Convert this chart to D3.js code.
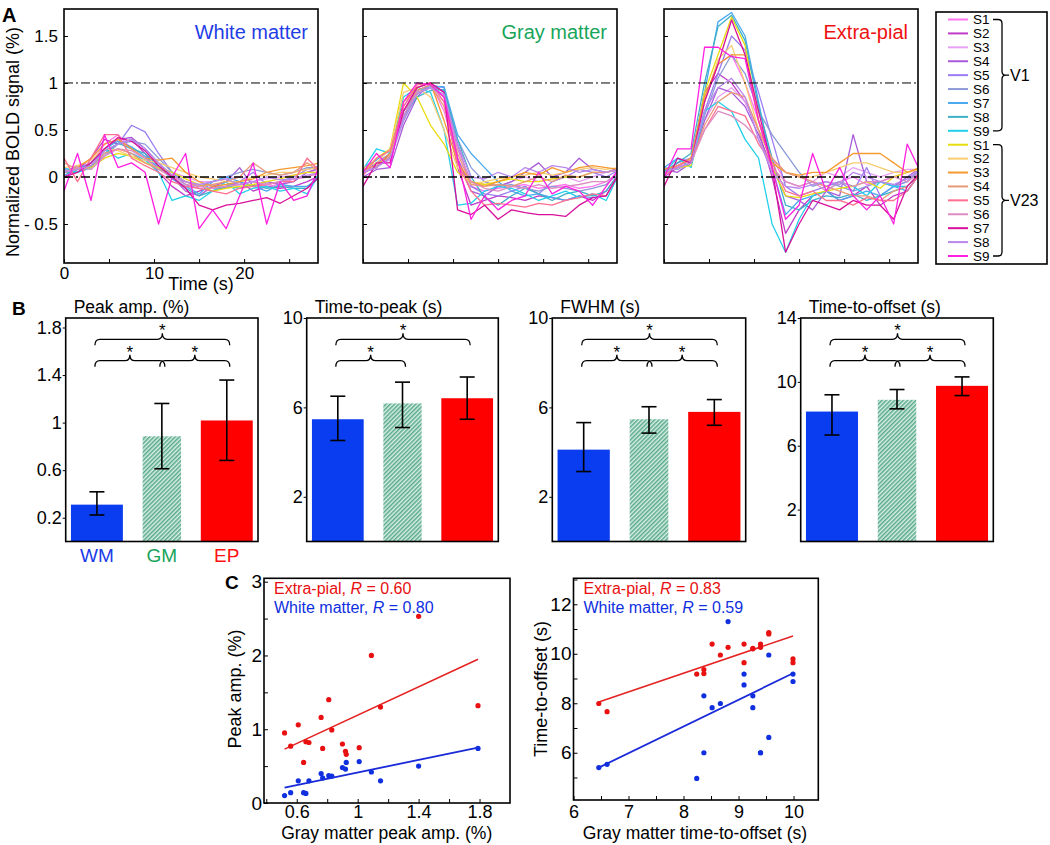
<!DOCTYPE html>
<html><head><meta charset="utf-8">
<script src="https://cdn.jsdelivr.net/npm/d3@7"></script>
<style>body{margin:0;background:#fff}</style>
</head><body>
<svg id="chart" width="1050" height="845"></svg>
<script>
// ================= DATA =================
const timeS = [0,1.5,3,4.5,6,7.5,9,10.5,12,13.5,15,16.5,18,19.5,21,22.5,24,25.5,27,28.5];
const subjectLabels = ["S1","S2","S3","S4","S5","S6","S7","S8","S9","S1","S2","S3","S4","S5","S6","S7","S8","S9"];
const groupNames = ["V1","V23"];
const seriesColors = ["#ff77ee","#c03cc8","#e8a0f4","#a85ad8","#9b7cf2","#8c9ad8","#4aa8f0","#3fb0c8","#22d0ea",
                      "#e8dc10","#f8cc70","#f59a30","#e89a78","#ff6f8f","#dc8cc0","#d8109a","#b888ec","#ff20e0"];
const aTimeTicks = [0,5,10,15,20,25];
const aTimeLabels = ["0","","10","","20",""];
const aSignalTicks = [1.5,1,0.5,0,-0.5];
const aSignalLabels = ["1.5","1","0.5","0","- 0.5"];
const refLevels = [1,0];

const wmCourses = [
 [0.05,0.10,0.15,0.35,0.45,0.30,0.20,0.10,0.00,-0.05,-0.10,-0.12,-0.10,-0.08,-0.05,-0.10,-0.08,-0.02,0.00,0.05],
 [0.00,0.08,0.20,0.40,0.35,0.40,0.25,0.05,-0.10,-0.20,-0.15,-0.10,-0.12,-0.05,-0.15,-0.10,-0.12,-0.10,-0.05,0.02],
 [0.10,0.05,0.10,0.25,0.30,0.25,0.20,0.10,0.05,0.00,-0.05,-0.05,-0.02,0.00,-0.05,-0.02,0.00,0.02,0.05,0.08],
 [0.05,0.12,0.10,0.30,0.40,0.42,0.30,0.15,0.00,-0.15,-0.20,-0.10,-0.05,0.10,-0.10,-0.05,-0.08,-0.05,0.05,0.10],
 [0.08,0.05,0.15,0.28,0.35,0.55,0.48,0.25,0.05,-0.08,-0.12,-0.15,-0.10,-0.05,0.05,-0.08,-0.05,0.00,0.08,0.12],
 [0.05,0.10,0.12,0.22,0.35,0.38,0.35,0.20,0.05,-0.05,-0.10,-0.05,0.00,0.05,0.08,0.05,0.02,0.05,0.10,0.10],
 [0.02,0.08,0.15,0.30,0.38,0.32,0.22,0.10,-0.02,-0.10,-0.18,-0.05,0.00,-0.05,-0.10,-0.15,-0.08,-0.10,-0.10,0.00],
 [0.05,0.05,0.12,0.25,0.36,0.30,0.25,0.12,0.00,-0.12,-0.20,-0.15,-0.10,-0.12,-0.08,-0.12,-0.10,-0.12,-0.12,0.05],
 [0.10,0.05,0.10,0.30,0.20,0.25,0.18,0.05,-0.25,-0.20,-0.25,-0.15,-0.05,-0.18,-0.12,-0.10,-0.15,-0.12,-0.18,0.05],
 [0.05,0.08,0.10,0.20,0.25,0.22,0.15,0.10,0.05,-0.02,-0.08,-0.15,-0.12,-0.10,-0.08,-0.05,-0.02,0.02,0.05,0.05],
 [0.10,0.12,0.18,0.30,0.28,0.22,0.18,0.15,0.10,0.05,0.00,-0.02,-0.05,-0.05,0.00,0.02,0.05,0.05,0.08,0.10],
 [0.05,0.10,0.20,0.35,0.40,0.30,0.20,0.18,0.20,0.05,-0.05,-0.10,-0.08,-0.05,-0.02,0.05,0.08,0.10,0.12,0.15],
 [0.15,0.08,0.12,0.25,0.30,0.25,0.15,0.08,0.02,-0.05,-0.10,-0.08,-0.05,0.00,0.15,0.05,0.02,0.05,0.15,0.05],
 [0.20,-0.05,0.20,0.45,0.45,0.20,0.12,0.05,-0.05,-0.10,-0.12,-0.15,-0.18,-0.12,-0.10,-0.08,-0.05,-0.05,0.20,0.05],
 [0.05,0.10,0.08,0.22,0.30,0.28,0.20,0.08,0.00,-0.08,-0.10,-0.12,-0.10,-0.08,-0.05,-0.08,-0.05,-0.02,0.00,0.05],
 [0.00,0.05,0.15,0.30,0.42,0.38,0.28,0.12,0.00,-0.12,-0.30,-0.35,-0.30,-0.28,-0.25,-0.22,-0.28,-0.20,-0.12,0.02],
 [0.05,0.08,0.12,0.28,0.35,0.40,0.30,0.15,0.02,-0.05,-0.08,-0.05,-0.02,-0.08,-0.05,0.00,-0.03,-0.02,0.02,0.05],
 [-0.15,0.25,-0.25,0.45,0.10,0.15,0.05,-0.50,0.00,0.25,-0.55,-0.35,-0.55,-0.20,0.15,-0.50,-0.05,-0.25,-0.20,0.15]
];
const gmCourses = [
 [0.02,0.15,0.20,0.75,0.95,1.00,0.70,0.20,-0.10,-0.15,-0.12,-0.10,-0.08,-0.12,-0.10,-0.08,-0.12,-0.10,-0.05,0.05],
 [0.05,0.10,0.25,0.70,0.92,0.98,0.85,0.10,-0.30,-0.25,-0.20,-0.22,-0.25,-0.20,-0.22,-0.25,-0.20,-0.25,-0.15,0.05],
 [0.05,0.12,0.18,0.60,0.90,0.95,0.80,0.30,-0.05,-0.08,-0.10,-0.05,0.00,-0.05,-0.02,0.00,-0.05,0.00,0.05,0.08],
 [0.00,0.08,0.10,0.55,0.85,1.00,0.90,0.20,-0.15,-0.20,-0.10,-0.05,0.05,0.15,0.00,0.05,0.20,0.08,0.05,0.10],
 [0.05,0.15,0.25,0.65,0.92,0.98,0.95,0.35,-0.10,-0.18,-0.20,-0.15,-0.10,-0.18,-0.05,0.00,0.08,0.05,0.00,0.08],
 [0.05,0.10,0.22,0.60,0.88,0.96,0.92,0.40,0.10,-0.05,-0.10,-0.08,-0.12,-0.15,-0.10,-0.12,-0.15,-0.12,-0.08,0.05],
 [0.10,0.18,0.30,0.70,0.90,0.96,0.96,0.45,0.25,0.10,-0.05,-0.15,-0.20,-0.18,-0.22,-0.25,-0.20,-0.22,-0.20,0.05],
 [0.05,0.12,0.20,0.65,0.85,0.92,0.93,0.40,0.00,-0.22,-0.30,-0.20,-0.12,-0.18,-0.25,-0.18,-0.15,-0.20,-0.15,0.05],
 [0.08,0.30,0.25,0.85,0.95,0.90,0.50,-0.30,-0.28,-0.15,-0.10,-0.12,-0.18,-0.25,-0.20,-0.15,-0.22,-0.18,-0.25,0.05],
 [0.05,0.20,0.30,1.00,0.85,0.55,0.35,0.05,-0.05,-0.08,-0.05,-0.02,-0.05,-0.05,-0.02,0.00,0.00,0.05,0.05,0.08],
 [0.10,0.15,0.30,0.90,0.95,0.85,0.50,0.10,-0.08,-0.05,-0.02,0.00,0.02,0.05,0.02,0.05,0.08,0.10,0.08,0.10],
 [0.08,0.12,0.25,0.80,0.95,1.00,0.60,0.15,-0.05,-0.10,-0.05,0.00,0.05,0.02,0.10,0.05,0.10,0.12,0.10,0.08],
 [0.05,0.10,0.22,0.70,0.92,0.98,0.75,0.25,-0.08,-0.10,-0.08,-0.10,-0.05,0.00,-0.05,0.02,0.00,0.05,0.05,0.08],
 [0.02,0.20,0.28,0.75,0.98,1.00,0.80,0.15,-0.15,-0.30,-0.28,-0.30,-0.32,-0.28,-0.30,-0.25,-0.22,-0.18,-0.20,0.05],
 [0.05,0.12,0.20,0.65,0.90,0.95,0.85,0.30,-0.05,-0.12,-0.15,-0.10,-0.12,-0.08,-0.12,-0.10,-0.08,-0.05,-0.05,0.05],
 [-0.10,0.15,0.15,0.70,0.95,1.00,0.90,-0.35,-0.40,-0.30,-0.45,-0.35,-0.38,-0.40,-0.40,-0.42,-0.30,-0.22,-0.20,0.05],
 [0.05,0.10,0.20,0.62,0.88,0.95,0.88,0.35,0.00,-0.02,0.05,0.00,0.10,0.05,0.12,0.10,0.05,0.08,0.05,0.08],
 [0.05,0.25,0.10,0.80,1.00,0.98,0.85,0.20,-0.45,-0.20,-0.35,-0.25,-0.20,0.05,-0.18,-0.10,-0.15,-0.30,-0.10,0.10]
];
const epCourses = [
 [0.05,0.15,0.20,0.80,1.20,1.30,1.00,0.60,0.20,-0.05,-0.10,-0.05,-0.10,-0.05,0.00,-0.08,-0.05,0.00,0.05,0.08],
 [0.00,0.10,0.15,0.90,1.10,1.00,0.80,0.50,0.00,-0.60,-0.35,-0.20,-0.15,-0.25,-0.20,-0.10,-0.30,-0.20,-0.15,0.05],
 [0.05,0.10,0.20,0.60,0.85,0.95,0.80,0.50,0.20,0.05,0.00,-0.05,0.05,0.00,0.10,0.05,0.00,0.05,0.08,0.08],
 [0.08,0.05,0.15,0.60,0.95,0.90,0.75,0.45,0.10,-0.20,-0.25,-0.35,-0.15,-0.20,0.45,-0.05,-0.05,-0.10,0.00,0.10],
 [0.05,0.15,0.20,0.70,1.10,1.50,1.35,0.90,0.40,-0.10,-0.20,-0.15,-0.10,-0.05,-0.15,0.10,-0.20,-0.10,-0.05,0.10],
 [0.10,0.08,0.15,0.65,1.05,1.30,1.10,0.70,0.45,0.25,0.05,-0.10,-0.05,-0.10,-0.15,-0.10,-0.05,-0.10,-0.05,0.08],
 [0.10,0.20,0.15,0.90,1.65,1.75,1.50,0.80,0.10,-0.40,-0.25,-0.20,-0.15,-0.25,-0.20,-0.15,-0.20,-0.10,-0.15,0.05],
 [0.05,0.15,0.25,1.00,1.60,1.72,1.45,0.75,0.20,-0.30,-0.35,-0.25,-0.20,-0.22,-0.18,-0.25,-0.20,-0.15,-0.10,0.05],
 [0.05,0.20,0.10,0.70,0.80,0.70,0.40,0.20,-0.50,-0.80,-0.45,-0.20,-0.15,-0.05,-0.10,-0.20,-0.05,-0.10,-0.10,0.05],
 [0.05,0.10,0.12,0.90,1.30,1.70,1.40,0.60,0.10,-0.20,-0.22,-0.18,-0.15,-0.12,-0.10,-0.05,-0.12,0.00,0.05,0.10],
 [0.05,0.10,0.15,0.80,1.25,1.40,1.00,0.50,0.15,0.05,0.00,0.00,0.05,0.10,0.15,0.15,0.10,0.05,0.05,0.08],
 [0.08,0.12,0.20,0.85,1.20,1.30,1.30,0.60,0.15,0.05,0.02,0.05,0.05,0.15,0.25,0.25,0.25,0.15,0.05,0.10],
 [0.05,0.10,0.15,0.55,0.80,0.90,0.85,0.50,0.20,0.05,0.00,-0.05,-0.10,-0.15,-0.20,-0.20,-0.25,-0.15,-0.10,0.05],
 [0.02,0.12,0.18,0.50,0.75,0.70,0.65,0.35,0.15,-0.15,-0.20,-0.15,-0.25,-0.25,-0.30,-0.22,-0.25,-0.25,-0.15,0.05],
 [0.05,0.10,0.15,0.50,0.70,0.65,0.55,0.40,0.10,-0.05,-0.10,-0.05,-0.15,-0.05,-0.10,-0.05,-0.05,0.00,-0.05,0.05],
 [-0.10,0.20,0.15,0.80,1.20,1.67,1.30,0.70,0.10,-0.80,-0.50,-0.25,-0.30,-0.35,-0.25,-0.30,-0.30,-0.45,-0.10,0.05],
 [0.05,0.10,0.15,0.70,0.95,1.05,0.85,0.40,0.05,-0.10,-0.12,-0.08,-0.05,-0.08,0.05,0.00,-0.05,-0.08,-0.02,0.08],
 [0.00,0.30,0.30,1.38,1.38,1.28,1.26,0.60,0.10,-0.45,-0.30,0.25,-0.15,0.10,-0.20,-0.35,-0.20,-0.50,0.35,0.05]
];

// Panel B
const barCats = ["WM","GM","EP"];
const barLabelColors = ["#1a3be8","#17a35a","#ff1010"];
const barFills = ["#0a3cf0","url(#hatch)","#ff0000"];
const peakAmpMean = [0.31, 0.885, 1.018];
const peakAmpLow  = [0.223, 0.612, 0.682];
const peakAmpHigh = [0.418, 1.161, 1.358];
const peakTicks = [0.2,0.6,1,1.4,1.8];
const peakTickLabels = ["0.2","0.6","1","1.4","1.8"];
const ttpMean = [5.47, 6.18, 6.41];
const ttpLow  = [4.52, 5.10, 5.47];
const ttpHigh = [6.50, 7.13, 7.36];
const fwhmMean = [4.11, 5.47, 5.80];
const fwhmLow  = [3.13, 4.85, 5.20];
const fwhmHigh = [5.32, 6.03, 6.35];
const tenTicks = [2,6,10];
const tenTickLabels = ["2","6","10"];
const ttoMean = [8.14, 8.875, 9.75];
const ttoLow  = [6.67, 8.31, 9.14];
const ttoHigh = [9.19, 9.52, 10.31];
const ttoTicks = [2,6,10,14];
const ttoTickLabels = ["2","6","10","14"];
// significance brackets: [from, to, level]
const sigThree = [[0,2,2],[0,1,1],[1,2,1]];
const sigTwo = [[0,2,2],[0,1,1]];

// Panel C
const gmPeak = [0.52,0.56,0.61,0.645,0.66,0.68,0.76,0.77,0.81,0.83,0.90,0.92,0.925,1.01,1.09,1.15,1.40,1.79];
const epPeak = [0.95,0.77,1.06,0.55,0.83,0.82,1.16,0.74,1.40,0.99,0.80,0.70,0.66,0.75,2.00,1.30,2.53,1.32];
const wmPeak = [0.10,0.14,0.30,0.14,0.13,0.30,0.40,0.34,0.37,0.365,0.48,0.46,0.55,0.56,0.42,0.30,0.50,0.74];
const fitPeakEP = [[0.52,0.73],[1.79,1.95]];
const fitPeakWM = [[0.52,0.21],[1.79,0.75]];
const cPeakYTicks = [0,0.5,1,1.5,2,2.5,3];
const cPeakYLabels = ["0","","1","","2","","3"];
const cPeakXTicks = [0.4,0.6,0.8,1.0,1.2,1.4,1.6,1.8];
const cPeakXLabels = ["","0.6","","1","","1.4","","1.8"];
const gmOffset = [6.46,6.61,8.24,8.37,8.37,8.52,8.67,8.81,9.10,9.10,9.26,9.26,9.40,9.40,9.55,9.55,9.99,9.99];
const epOffset = [7.99,7.66,9.18,9.36,9.20,10.39,9.95,10.26,10.39,9.64,10.22,10.20,10.39,10.26,10.86,10.80,9.79,9.64];
const wmOffset = [5.40,5.53,4.96,8.30,6.00,7.82,7.99,11.30,9.18,8.74,8.30,7.82,6.00,6.00,9.95,6.62,9.18,8.88];
const fitOffEP = [[6.46,8.05],[9.99,10.72]];
const fitOffWM = [[6.46,5.40],[9.99,9.21]];
const cOffYTicks = [5,6,7,8,9,10,11,12,13];
const cOffYLabels = ["","6","","8","","10","","12",""];
const cOffXTicks = [6,6.5,7,7.5,8,8.5,9,9.5,10];
const cOffXLabels = ["6","","7","","8","","9","","10"];

// ================= DRAW =================
const FF = "'Liberation Sans', Arial, Helvetica, sans-serif";
const svg = d3.select("#chart").attr("font-family", FF);
const defs = svg.append("defs");
const pat = defs.append("pattern").attr("id","hatch").attr("patternUnits","userSpaceOnUse")
  .attr("width",3).attr("height",3).attr("patternTransform","rotate(45)");
pat.append("rect").attr("width",3).attr("height",3).attr("fill","#dcefe6");
pat.append("line").attr("x1",0.8).attr("y1",0).attr("x2",0.8).attr("y2",3).attr("stroke","#3f9e7c").attr("stroke-width",1.3);

function styleAxis(g, fs) {
  g.attr("font-family", FF).attr("font-size", fs);
  g.select(".domain").remove();
  g.selectAll(".tick line").attr("stroke","#000").attr("stroke-width",1);
  g.selectAll(".tick text").attr("fill","#000");
}
function label(x, y, str, fs, opts = {}) {
  const t = svg.append("text").attr("x", x).attr("y", y).attr("font-size", fs).text(str)
    .attr("fill", opts.color || "#000").attr("text-anchor", opts.anchor || "start");
  if (opts.bold) t.attr("font-weight","bold");
  if (opts.rotate) t.attr("transform", `rotate(-90,${x},${y})`);
  return t;
}

// ---------- Panel A ----------
const aTop = 9, aBottom = 263;
const aFrames = [[64,318],[363,617],[664,918]];
const aTitles = ["White matter","Gray matter","Extra-pial"];
const aTitleColors = ["#1f3de6","#17a55a","#ee1111"];
const aData = [wmCourses, gmCourses, epCourses];
const yA = d3.scaleLinear().domain([-0.915, 1.787]).range([aBottom, aTop]);

aData.forEach((courses, pi) => {
  const [x0, x1] = aFrames[pi];
  const x = d3.scaleLinear().domain([0, 28.2]).range([x0, x1]);
  const g = svg.append("g");
  defs.append("clipPath").attr("id","clipA"+pi).append("rect")
    .attr("x",x0).attr("y",aTop).attr("width",x1-x0).attr("height",aBottom-aTop);
  const line = d3.line().x((d,i)=>x(timeS[i])).y(d=>yA(d));
  g.append("g").attr("clip-path",`url(#clipA${pi})`)
    .selectAll("path").data(courses).join("path")
    .attr("d", line).attr("fill","none")
    .attr("stroke",(d,i)=>seriesColors[i]).attr("stroke-width",1.3).attr("stroke-linejoin","round");
  g.selectAll("line.ref").data(refLevels).join("line").attr("class","ref")
    .attr("x1",x0).attr("x2",x1).attr("y1",d=>yA(d)).attr("y2",d=>yA(d))
    .attr("stroke","#000").attr("stroke-width",d=>d===0?1.7:1)
    .attr("stroke-dasharray","9,3,2,3");
  const xa = g.append("g").attr("transform",`translate(0,${aBottom})`)
    .call(d3.axisBottom(x).tickValues(aTimeTicks).tickSizeInner(-4).tickSizeOuter(0).tickPadding(4)
      .tickFormat((d,i)=> pi===0 ? aTimeLabels[i] : ""));
  styleAxis(xa, 17);
  const ya = g.append("g").attr("transform",`translate(${x0},0)`)
    .call(d3.axisLeft(yA).tickValues(aSignalTicks).tickSizeInner(-4).tickSizeOuter(0).tickPadding(6)
      .tickFormat((d,i)=> pi===0 ? aSignalLabels[i] : ""));
  styleAxis(ya, 17);
  g.append("rect").attr("x",x0).attr("y",aTop).attr("width",x1-x0).attr("height",aBottom-aTop)
    .attr("fill","none").attr("stroke","#000").attr("stroke-width",1.6);
  label(x1-10, 39, aTitles[pi], 20, {anchor:"end", color:aTitleColors[pi]});
});
label(2, 22, "A", 20, {bold:true});
label(201, 290, "Time (s)", 18, {anchor:"middle"});
label(19, 142, "Normalized BOLD signal (%)", 18, {anchor:"middle", rotate:true});

// Legend A
const leg = svg.append("g");
leg.append("rect").attr("x",936).attr("y",12).attr("width",111).attr("height",252)
  .attr("fill","#fff").attr("stroke","#000").attr("stroke-width",1.6);
const rowY = d3.scalePoint().domain(d3.range(subjectLabels.length)).range([19.5, 256]);
leg.selectAll("line.s").data(subjectLabels).join("line").attr("class","s")
  .attr("x1",948).attr("x2",968).attr("y1",(d,i)=>rowY(i)).attr("y2",(d,i)=>rowY(i))
  .attr("stroke",(d,i)=>seriesColors[i]).attr("stroke-width",2);
leg.selectAll("text.s").data(subjectLabels).join("text").attr("class","s")
  .attr("x",973).attr("y",(d,i)=>rowY(i)).attr("dy","0.36em").attr("font-size",13.5).text(d=>d);
groupNames.forEach((gname, gi) => {
  const top = rowY(gi*9), bot = rowY(gi*9+8), mid = (top+bot)/2, bx = 1002;
  leg.append("path").attr("fill","none").attr("stroke","#000").attr("stroke-width",1.3)
    .attr("d",`M993,${top} L${bx-4},${top} Q${bx},${top} ${bx},${top+4} L${bx},${mid-4} Q${bx},${mid} ${bx+4},${mid} L${bx+7},${mid} M${bx+4},${mid} Q${bx},${mid} ${bx},${mid+4} L${bx},${bot-4} Q${bx},${bot} ${bx-4},${bot} L993,${bot}`);
  leg.append("text").attr("x",bx+8).attr("y",mid).attr("dy","0.36em").attr("font-size",16).text(gname);
});

// ---------- Panel B ----------
const bTop = 318, bBottom = 541.5;
const bSpecs = [
  {x0:65.7, x1:258, title:"Peak amp. (%)", dom:[0,1.88], ticks:peakTicks, labels:peakTickLabels, mean:peakAmpMean, lo:peakAmpLow, hi:peakAmpHigh, sig:sigThree, cats:true},
  {x0:306.7, x1:498.3, title:"Time-to-peak (s)", dom:[0,10], ticks:tenTicks, labels:tenTickLabels, mean:ttpMean, lo:ttpLow, hi:ttpHigh, sig:sigTwo},
  {x0:552.3, x1:745.7, title:"FWHM (s)", dom:[0,10], ticks:tenTicks, labels:tenTickLabels, mean:fwhmMean, lo:fwhmLow, hi:fwhmHigh, sig:sigThree},
  {x0:800.7, x1:993.3, title:"Time-to-offset (s)", dom:[0,14], ticks:ttoTicks, labels:ttoTickLabels, mean:ttoMean, lo:ttoLow, hi:ttoHigh, sig:sigThree}
];
function brace(xa, xb, yl) {
  const xm = (xa+xb)/2, r = 5, h = 6;
  return `M${xa},${yl+h} Q${xa},${yl} ${xa+r},${yl} L${xm-r},${yl} Q${xm},${yl} ${xm},${yl-h} Q${xm},${yl} ${xm+r},${yl} L${xb-r},${yl} Q${xb},${yl} ${xb},${yl+h}`;
}
bSpecs.forEach(s => {
  const g = svg.append("g");
  const x = d3.scaleBand().domain(barCats).range([s.x0+2, s.x1-2]).paddingInner(0.2).paddingOuter(0.05);
  const y = d3.scaleLinear().domain(s.dom).range([bBottom, bTop]);
  const bw = x.bandwidth();
  const cx = c => x(c) + bw/2;
  const w = c => c === "GM" ? bw*0.74 : bw;
  g.selectAll("rect.bar").data(barCats).join("rect").attr("class","bar")
    .attr("x", c => cx(c) - w(c)/2).attr("width", c => w(c))
    .attr("y", (c,i) => y(s.mean[i])).attr("height", (c,i) => y(0) - y(s.mean[i]))
    .attr("fill", (c,i) => barFills[i]);
  const eb = g.selectAll("g.eb").data(barCats).join("g").attr("class","eb");
  eb.append("line").attr("x1",c=>cx(c)).attr("x2",c=>cx(c))
    .attr("y1",(c,i)=>y(s.lo[i])).attr("y2",(c,i)=>y(s.hi[i]));
  eb.append("line").attr("x1",c=>cx(c)-7.5).attr("x2",c=>cx(c)+7.5)
    .attr("y1",(c,i)=>y(s.lo[i])).attr("y2",(c,i)=>y(s.lo[i]));
  eb.append("line").attr("x1",c=>cx(c)-7.5).attr("x2",c=>cx(c)+7.5)
    .attr("y1",(c,i)=>y(s.hi[i])).attr("y2",(c,i)=>y(s.hi[i]));
  eb.selectAll("line").attr("stroke","#000").attr("stroke-width",1.6);
  s.sig.forEach(([a,b,lev]) => {
    const xa = cx(barCats[a]) - 2, xb = cx(barCats[b]) + 3;
    const yl = lev === 2 ? bTop + 21.3 : bTop + 42.7;
    g.append("path").attr("d", brace(xa, xb, yl)).attr("fill","none").attr("stroke","#000").attr("stroke-width",1.3);
    g.append("text").attr("x",(xa+xb)/2).attr("y",yl-3).attr("text-anchor","middle").attr("font-size",17).text("*");
  });
  const ya = g.append("g").attr("transform",`translate(${s.x0},0)`)
    .call(d3.axisLeft(y).tickValues(s.ticks).tickSizeInner(3).tickSizeOuter(0).tickPadding(1)
      .tickFormat((d,i)=>s.labels[i]));
  styleAxis(ya, 18);
  g.append("rect").attr("x",s.x0).attr("y",bTop).attr("width",s.x1-s.x0).attr("height",bBottom-bTop)
    .attr("fill","none").attr("stroke","#000").attr("stroke-width",1.6);
  label(s.x0+8, bTop-5, s.title, 17.5);
  if (s.cats) {
    barCats.forEach((c,i) => label(cx(c), 562, c, 19, {anchor:"middle", color:barLabelColors[i]}));
  }
});
label(12, 315, "B", 19, {bold:true});

// ---------- Panel C ----------
const cSpecs = [
  {x0:264, x1:510, y0:578.3, y1:803, xd:[0.385,2.0], yd:[0,3.046], xs:gmPeak, ep:epPeak, wm:wmPeak,
   fitEP:fitPeakEP, fitWM:fitPeakWM, xt:cPeakXTicks, xl:cPeakXLabels, yt:cPeakYTicks, yl:cPeakYLabels,
   rEP:"0.60", rWM:"0.80", xTitle:"Gray matter peak amp. (%)", yTitle:"Peak amp. (%)", yTitleX:241, xTitleX:386.7},
  {x0:573.5, x1:818.3, y0:578.3, y1:800, xd:[6,10.45], yd:[4.09,13.05], xs:gmOffset, ep:epOffset, wm:wmOffset,
   fitEP:fitOffEP, fitWM:fitOffWM, xt:cOffXTicks, xl:cOffXLabels, yt:cOffYTicks, yl:cOffYLabels,
   rEP:"0.83", rWM:"0.59", xTitle:"Gray matter time-to-offset (s)", yTitle:"Time-to-offset (s)", yTitleX:547, xTitleX:695}
];
cSpecs.forEach(s => {
  const g = svg.append("g");
  const x = d3.scaleLinear().domain(s.xd).range([s.x0, s.x1]);
  const y = d3.scaleLinear().domain(s.yd).range([s.y1, s.y0]);
  const ln = d3.line().x(d=>x(d[0])).y(d=>y(d[1]));
  g.append("path").attr("d", ln(s.fitEP)).attr("stroke","#e52222").attr("stroke-width",1.6).attr("fill","none");
  g.append("path").attr("d", ln(s.fitWM)).attr("stroke","#1a2ad8").attr("stroke-width",1.8).attr("fill","none");
  g.selectAll("circle.ep").data(s.ep).join("circle").attr("class","ep")
    .attr("cx",(d,i)=>x(s.xs[i])).attr("cy",d=>y(d)).attr("r",2.6).attr("fill","#e81010");
  g.selectAll("circle.wm").data(s.wm).join("circle").attr("class","wm")
    .attr("cx",(d,i)=>x(s.xs[i])).attr("cy",d=>y(d)).attr("r",2.6).attr("fill","#1030e0");
  const xa = g.append("g").attr("transform",`translate(0,${s.y1})`)
    .call(d3.axisBottom(x).tickValues(s.xt).tickSizeInner(-4).tickSizeOuter(0).tickPadding(818 - s.y1 - 12.8)
      .tickFormat((d,i)=>s.xl[i]));
  styleAxis(xa, 18);
  const ya = g.append("g").attr("transform",`translate(${s.x0},0)`)
    .call(d3.axisLeft(y).tickValues(s.yt).tickSizeInner(-4).tickSizeOuter(0).tickPadding(2)
      .tickFormat((d,i)=>s.yl[i]));
  styleAxis(ya, 19);
  g.append("rect").attr("x",s.x0).attr("y",s.y0).attr("width",s.x1-s.x0).attr("height",s.y1-s.y0)
    .attr("fill","none").attr("stroke","#000").attr("stroke-width",1.6);
  const lx = s.x0 + 10;
  const t1 = g.append("text").attr("x",lx).attr("y",593.5).attr("font-size",16).attr("fill","#e81010");
  t1.append("tspan").text("Extra-pial, ");
  t1.append("tspan").attr("font-style","italic").text("R");
  t1.append("tspan").text(" = " + s.rEP);
  const t2 = g.append("text").attr("x",lx).attr("y",612.5).attr("font-size",16).attr("fill","#1030e0");
  t2.append("tspan").text("White matter, ");
  t2.append("tspan").attr("font-style","italic").text("R");
  t2.append("tspan").text(" = " + s.rWM);
  label(s.xTitleX, 839, s.xTitle, 17.5, {anchor:"middle"});
  label(s.yTitleX, 689, s.yTitle, 18, {anchor:"middle", rotate:true});
});
label(225, 589, "C", 19, {bold:true});
</script>
</body></html>
